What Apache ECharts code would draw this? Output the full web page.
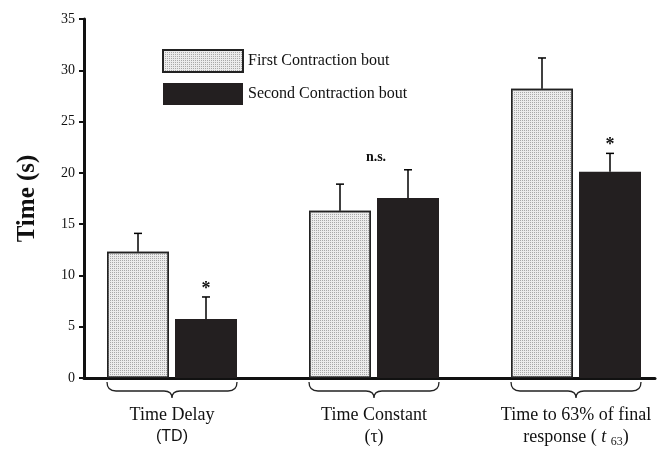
<!DOCTYPE html>
<html><head><meta charset="utf-8">
<script src="https://cdn.jsdelivr.net/npm/echarts@6/dist/echarts.min.js"></script>
<style>html,body{margin:0;padding:0;background:#fff}#c{width:661px;height:455px}</style>
</head><body><div id="c"></div>
<script>
const categories = ['Time Delay', 'Time Constant', 'Time to 63%'];
const seriesNames = ['First Contraction bout', 'Second Contraction bout'];
const firstValues = [12.3, 16.3, 28.2];
const firstErrTop = [14.1, 18.9, 31.2];
const secondValues = [5.75, 17.55, 20.1];
const secondErrTop = [7.9, 20.3, 21.9];
const annotations = ['*', 'n.s.', '*'];
const yTicks = [0, 5, 10, 15, 20, 25, 30, 35];

const serif = '"Liberation Serif", "Times New Roman", serif';
const BAR_W = 62, GAP = 6, OFF = (BAR_W + GAP) / 2;

const chart = echarts.init(document.getElementById('c'));

function errItem(offset) {
  return function (params, api) {
    const i = api.value(0);
    const base = api.coord([i, api.value(1)]);
    const top = api.coord([i, api.value(2)]);
    const x = base[0] + offset;
    return {
      type: 'group',
      children: [
        { type: 'line', shape: { x1: x, y1: base[1], x2: x, y2: top[1] }, style: { stroke: '#000', lineWidth: 1.5 } },
        { type: 'line', shape: { x1: x - 4, y1: top[1], x2: x + 4, y2: top[1] }, style: { stroke: '#000', lineWidth: 1.5 } }
      ]
    };
  };
}

const stipple = { symbol: 'rect', symbolSize: 1, dashArrayX: [1, 1], dashArrayY: [1, 1], color: '#a8a8a8', rotation: 0 };

chart.setOption({
  animation: false,
  grid: [
    { left: 71, width: 606, top: 19, bottom: 77, outerBoundsMode: 'none', containLabel: false },
    { left: 84, width: 571, top: 19, bottom: 77, outerBoundsMode: 'none', containLabel: false }
  ],
  legend: {
    orient: 'vertical', left: 162, top: 49, padding: 0, itemWidth: 80, itemHeight: 22, itemGap: 10,
    icon: 'rect', textStyle: { fontFamily: serif, fontSize: 16, color: '#111' },
    data: seriesNames
  },
  xAxis: [
    {
      type: 'category', gridIndex: 0, data: categories,
      axisLine: { show: false }, axisTick: { show: false },
      axisLabel: {
        margin: 26, interval: 0, color: '#111',
        fontFamily: serif, fontSize: 18, lineHeight: 22,
        formatter: function (v, idx) {
          if (idx === 0) return 'Time Delay\n{sans|(TD)}';
          if (idx === 1) return 'Time Constant\n(τ)';
          return 'Time to 63% of final\nresponse ( {it|t} {sub|63})';
        },
        rich: {
          sans: { fontFamily: '"Liberation Sans", Arial, sans-serif', fontSize: 16, lineHeight: 22, color: '#111' },
          it: { fontFamily: serif, fontStyle: 'italic', fontSize: 18, lineHeight: 22, color: '#111' },
          sub: { fontFamily: serif, fontSize: 12, lineHeight: 22, verticalAlign: 'bottom', padding: [7, 0, 0, 0], color: '#111' }
        }
      }
    },
    {
      type: 'value', gridIndex: 1, min: 0, max: 1,
      axisLine: { show: true, lineStyle: { color: '#111', width: 3 } },
      axisTick: { show: false }, axisLabel: { show: false }, splitLine: { show: false }
    }
  ],
  yAxis: [
    {
      type: 'value', gridIndex: 0, min: 0, max: 35, interval: 5, offset: -13,
      name: 'Time (s)', nameLocation: 'middle', nameGap: 44,
      nameTextStyle: { fontFamily: serif, fontSize: 25, fontWeight: 'bold', color: '#111' },
      axisLine: { show: true, lineStyle: { color: '#111', width: 3 } },
      axisTick: { show: true, length: 5, lineStyle: { color: '#111', width: 2 } },
      axisLabel: { fontFamily: serif, fontSize: 14, color: '#111', margin: 9,
        customValues: yTicks },
      splitLine: { show: false }
    },
    { type: 'value', gridIndex: 1, show: false, min: 0, max: 35 }
  ],
  series: [
    {
      name: seriesNames[0], type: 'bar', data: firstValues, barWidth: BAR_W, barGap: (GAP / BAR_W * 100) + '%',
      itemStyle: { color: '#ececec', borderColor: '#222', borderWidth: 1.5, decal: stipple }
    },
    {
      name: seriesNames[1], type: 'bar', data: secondValues, barWidth: BAR_W,
      itemStyle: { color: '#231f20' }
    },
    {
      type: 'custom', renderItem: errItem(-OFF), z: 5,
      data: firstValues.map((v, i) => [i, v, firstErrTop[i]])
    },
    {
      type: 'custom', renderItem: errItem(OFF), z: 5,
      data: secondValues.map((v, i) => [i, v, secondErrTop[i]])
    },
    {
      type: 'custom', z: 6,
      data: annotations.map((t, i) => [i, Math.max(firstErrTop[i], secondErrTop[i]), secondErrTop[i]]),
      renderItem: function (params, api) {
        const i = api.value(0);
        const txt = annotations[params.dataIndex];
        const isNs = txt === 'n.s.';
        const p = api.coord([i, isNs ? api.value(1) : api.value(2)]);
        return {
          type: 'text',
          style: {
            text: txt, x: isNs ? p[0] + 2 : p[0] + OFF, y: isNs ? p[1] - 12 : p[1] - 8,
            align: 'center', verticalAlign: 'middle',
            font: 'bold ' + (isNs ? 14 : 18) + 'px ' + serif, fill: '#111'
          }
        };
      }
    },
    {
      type: 'custom', z: 6, clip: false,
      data: categories.map((c, i) => [i, 0]),
      renderItem: function (params, api) {
        const p = api.coord([api.value(0), 0]);
        const xc = p[0], x0 = xc - 65, x1 = xc + 65;
        const y0 = p[1] + 4, y1 = p[1] + 13, y2 = p[1] + 20;
        const d = `M${x0},${y0} Q${x0},${y1} ${x0 + 9},${y1} L${xc - 8},${y1} Q${xc},${y1} ${xc},${y2} Q${xc},${y1} ${xc + 8},${y1} L${x1 - 9},${y1} Q${x1},${y1} ${x1},${y0}`;
        return { type: 'path', shape: { pathData: d }, style: { stroke: '#222', lineWidth: 1.3, fill: null } };
      }
    }
  ]
});
</script></body></html>
